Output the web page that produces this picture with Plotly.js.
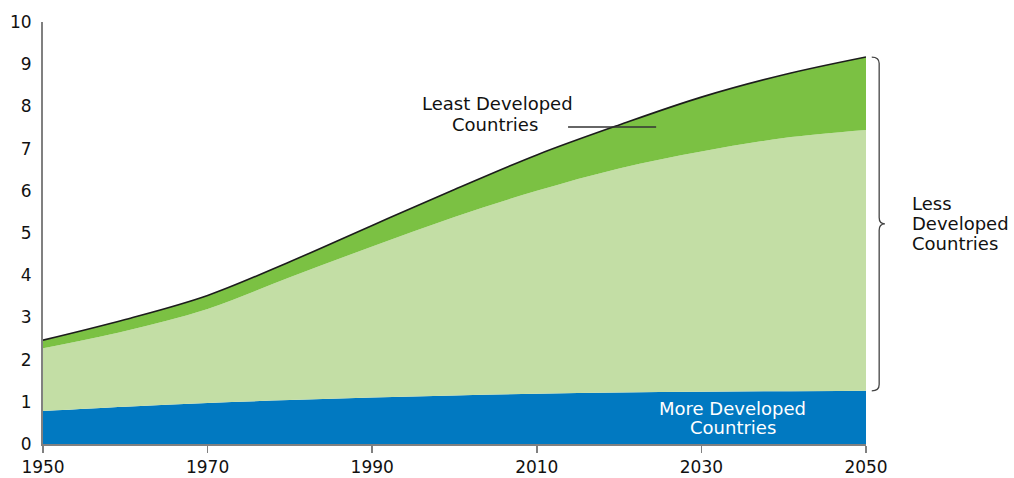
<!DOCTYPE html>
<html>
<head>
<meta charset="utf-8">
<script src="https://cdn.plot.ly/plotly-3.0.1.min.js"></script>
<style>html,body{margin:0;padding:0;background:#fff;}#chart{width:1014px;height:478px;}</style>
</head>
<body>
<div id="chart"></div>
<script>
// World population (billions), stacked components
const years = [1950, 1960, 1970, 1980, 1990, 2000, 2010, 2020, 2030, 2040, 2050];
const moreDeveloped = [0.78, 0.88, 0.97, 1.04, 1.10, 1.15, 1.19, 1.22, 1.24, 1.25, 1.26];
const lessDevelopedExLeast = [1.49, 1.80, 2.23, 2.91, 3.58, 4.23, 4.81, 5.31, 5.69, 6.00, 6.18];
const leastDeveloped = [0.19, 0.27, 0.32, 0.37, 0.50, 0.65, 0.85, 1.03, 1.29, 1.50, 1.73];
const xTicks = [1950, 1970, 1990, 2010, 2030, 2050];
const yTicks = [0, 1, 2, 3, 4, 5, 6, 7, 8, 9, 10];

const FONT = 'DejaVu Sans, Verdana, sans-serif';
const TXT = '#111111';

const traces = [
  {x: years, y: moreDeveloped, type: 'scatter', mode: 'lines', stackgroup: 'one',
   line: {width: 0, shape: 'spline', color: '#0179c1'}, fillcolor: '#0179c1', hoverinfo: 'skip'},
  {x: years, y: lessDevelopedExLeast, type: 'scatter', mode: 'lines', stackgroup: 'one',
   line: {width: 0, shape: 'spline', color: '#c3dea5'}, fillcolor: '#c3dea5', hoverinfo: 'skip'},
  {x: years, y: leastDeveloped, type: 'scatter', mode: 'lines', stackgroup: 'one',
   line: {width: 1.6, shape: 'spline', color: '#1c1c1c'}, fillcolor: '#7bc143', hoverinfo: 'skip'}
];

// brace endpoints derived from the data
const n = years.length - 1;
const topTotal = moreDeveloped[n] + lessDevelopedExLeast[n] + leastDeveloped[n];
const bottomLess = moreDeveloped[n];
const yMax = 10;
const tp = topTotal / yMax, bp = bottomLess / yMax, mp = (tp + bp) / 2;
const x0 = 1.007, x1 = 1.016, x2 = 1.023;
const dy = 0.015;
const bracePath = `M ${x0} ${tp} Q ${x1} ${tp} ${x1} ${tp - dy} L ${x1} ${mp + dy} Q ${x1} ${mp} ${x2} ${mp} Q ${x1} ${mp} ${x1} ${mp - dy} L ${x1} ${bp + dy} Q ${x1} ${bp} ${x0} ${bp}`;

function ann(x, y, text, xref, yref, color, xanchor) {
  return {xref: xref, yref: yref, x: x, y: y, text: text, showarrow: false,
    xanchor: xanchor || 'center', yanchor: 'middle',
    font: {family: FONT, size: 18, color: color}};
}
const lh = 0.0474;

const layout = {
  width: 1014, height: 478,
  margin: {l: 43, r: 148, t: 22, b: 34},
  paper_bgcolor: '#ffffff', plot_bgcolor: '#ffffff',
  showlegend: false,
  hovermode: false,
  font: {family: FONT, size: 17, color: TXT},
  xaxis: {
    range: [1950, 2050], tickvals: xTicks, ticktext: xTicks.map(String),
    showgrid: false, zeroline: false, showline: true, linecolor: '#808080', linewidth: 2,
    ticks: 'outside', ticklen: 7, tickwidth: 1.5, tickcolor: '#808080',
    tickfont: {family: FONT, size: 17, color: TXT}
  },
  yaxis: {
    range: [0, yMax], tickvals: yTicks, ticktext: yTicks.map(String),
    showgrid: false, zeroline: false, showline: true, linecolor: '#808080', linewidth: 2,
    ticks: '', ticklabelstandoff: 6,
    tickfont: {family: FONT, size: 17, color: TXT}
  },
  shapes: [
    {type: 'line', xref: 'x', yref: 'y', x0: 2013.8, x1: 2024.5, y0: 7.51, y1: 7.51,
     line: {color: '#333333', width: 1.5}, layer: 'above'},
    {type: 'path', xref: 'paper', yref: 'paper', path: bracePath,
     line: {color: '#444444', width: 1.3}}
  ],
  annotations: [
    ann(2005.2, 8.06, 'Least Developed', 'x', 'y', TXT),
    ann(2004.9, 7.56, 'Countries', 'x', 'y', TXT),
    ann(2033.8, 0.85, 'More Developed', 'x', 'y', '#ffffff'),
    ann(2033.8, 0.38, 'Countries', 'x', 'y', '#ffffff'),
    ann(1.054, mp + lh, 'Less', 'paper', 'paper', TXT, 'left'),
    ann(1.054, mp, 'Developed', 'paper', 'paper', TXT, 'left'),
    ann(1.054, mp - lh, 'Countries', 'paper', 'paper', TXT, 'left')
  ]
};

Plotly.newPlot('chart', traces, layout, {staticPlot: true, displayModeBar: false});
</script>
</body>
</html>
